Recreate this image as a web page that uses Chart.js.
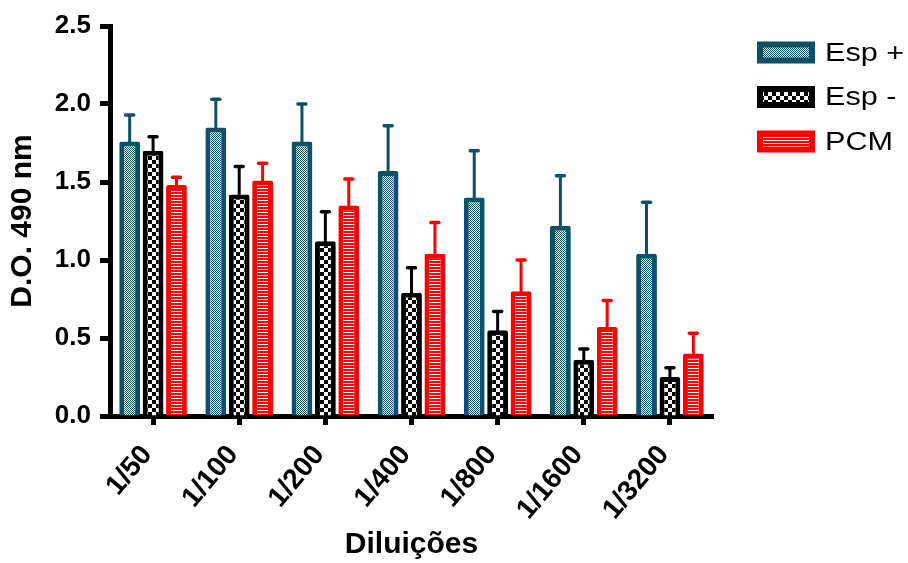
<!DOCTYPE html>
<html>
<head>
<meta charset="utf-8">
<script src="https://cdn.jsdelivr.net/npm/chart.js@4/dist/chart.umd.min.js"></script>
<style>
html,body{margin:0;padding:0;background:#fff;}
#wrap{width:908px;height:563px;position:relative;}
</style>
</head>
<body>
<div id="wrap"><canvas id="c" width="908" height="563"></canvas></div>
<script>
// ---- data ----
const categories = ["1/50", "1/100", "1/200", "1/400", "1/800", "1/1600", "1/3200"];
const seriesNames = ["Esp +", "Esp -", "PCM"];
const espPlus = [1.76, 1.85, 1.76, 1.57, 1.40, 1.22, 1.04];
const espPlusErr = [0.17, 0.18, 0.24, 0.29, 0.30, 0.32, 0.33];
const espMinus = [1.70, 1.42, 1.12, 0.79, 0.55, 0.36, 0.25];
const espMinusErr = [0.09, 0.18, 0.19, 0.16, 0.12, 0.07, 0.06];
const pcm = [1.48, 1.51, 1.35, 1.04, 0.80, 0.57, 0.40];
const pcmErr = [0.05, 0.11, 0.17, 0.20, 0.20, 0.17, 0.13];
const yTicks = [0, 0.5, 1.0, 1.5, 2.0, 2.5];

// ---- styles ----
const TEAL = "#0b5266";
const BLACK = "#000000";
const RED = "#ff0000";
const FONT = 'Arial, "Liberation Sans", Helvetica, sans-serif';

function makePattern(w, h, draw) {
  const c = document.createElement("canvas");
  c.width = w; c.height = h;
  const g = c.getContext("2d");
  draw(g);
  return g.createPattern(c, "repeat");
}
const tealPattern = makePattern(2, 2, g => {
  g.fillStyle = "#fff"; g.fillRect(0, 0, 2, 2);
  g.fillStyle = TEAL; g.fillRect(0, 0, 1, 1); g.fillRect(1, 1, 1, 1);
});
const blackPattern = makePattern(8, 8, g => {
  g.fillStyle = "#fff"; g.fillRect(0, 0, 8, 8);
  g.fillStyle = BLACK; g.fillRect(0, 0, 4, 4); g.fillRect(4, 4, 4, 4);
});
const redPattern = makePattern(4, 3, g => {
  g.fillStyle = RED; g.fillRect(0, 0, 4, 3);
  g.fillStyle = "#fff"; g.fillRect(0, 2, 4, 1);
});

const errorBars = {
  id: "errorBars",
  afterDatasetsDraw(chart) {
    const ctx = chart.ctx;
    const ys = chart.scales.y;
    chart.data.datasets.forEach((ds, di) => {
      const meta = chart.getDatasetMeta(di);
      meta.data.forEach((bar, i) => {
        const v = ds.data[i], e = ds.errors[i];
        const yTop = ys.getPixelForValue(v + e);
        ctx.save();
        ctx.strokeStyle = ds.borderColor;
        ctx.lineWidth = 3;
        ctx.lineCap = "butt";
        ctx.beginPath();
        ctx.moveTo(bar.x, bar.y + 3);
        ctx.lineTo(bar.x, yTop);
        ctx.stroke();
        ctx.lineWidth = 3.5;
        ctx.lineCap = "round";
        ctx.beginPath();
        ctx.moveTo(bar.x - 4, yTop);
        ctx.lineTo(bar.x + 4, yTop);
        ctx.stroke();
        ctx.restore();
      });
    });
  }
};

const customLegend = {
  id: "customLegend",
  afterDraw(chart) {
    const ctx = chart.ctx;
    const x0 = 757, bw = 58, bh = 22, rowStart = 52.5, rowGap = 44.5;
    chart.data.datasets.forEach((ds, i) => {
      const cy = rowStart + i * rowGap;
      const top = cy - bh / 2;
      ctx.save();
      ctx.fillStyle = ds.borderColor;
      ctx.fillRect(x0, top, bw, bh);
      ctx.fillStyle = ds.backgroundColor;
      ctx.fillRect(x0 + 6, top + 6, bw - 12, bh - 12);
      ctx.fillStyle = "#000";
      ctx.font = "25.5px " + FONT;
      ctx.textBaseline = "middle";
      ctx.textAlign = "left";
      ctx.translate(825, cy + 1);
      ctx.scale(1.2, 1);
      ctx.fillText(ds.label, 0, 0);
      ctx.restore();
    });
  }
};

const barCommon = {
  borderWidth: 5,
  borderRadius: 2,
  borderSkipped: "start",
  categoryPercentage: 0.815,
  barPercentage: 0.89
};

new Chart(document.getElementById("c"), {
  type: "bar",
  data: {
    labels: categories,
    datasets: [
      Object.assign({ label: seriesNames[0], data: espPlus, errors: espPlusErr, backgroundColor: tealPattern, borderColor: TEAL }, barCommon),
      Object.assign({ label: seriesNames[1], data: espMinus, errors: espMinusErr, backgroundColor: blackPattern, borderColor: BLACK }, barCommon),
      Object.assign({ label: seriesNames[2], data: pcm, errors: pcmErr, backgroundColor: redPattern, borderColor: RED }, barCommon)
    ]
  },
  options: {
    responsive: false,
    animation: false,
    devicePixelRatio: 1,
    layout: { padding: { top: 26, right: 195, bottom: 0, left: 0 } },
    plugins: {
      legend: { display: false },
      tooltip: { enabled: false }
    },
    scales: {
      x: {
        offset: true,
        grid: { display: true, drawOnChartArea: false, offset: false, drawTicks: true, tickLength: 9, tickWidth: 5, tickColor: "#000" },
        border: { display: true, width: 5, color: "#000" },
        ticks: {
          color: "#000",
          font: { family: FONT, size: 28, weight: "bold" },
          maxRotation: 50, minRotation: 50,
          padding: 14,
          labelOffset: -6,
          autoSkip: false
        },
        title: {
          display: true, text: "Diluições", color: "#000",
          font: { family: FONT, size: 30, weight: "bold" },
          padding: { top: 0, bottom: 0 }
        },
        afterFit(scale) { scale.height = 147; }
      },
      y: {
        min: 0, max: 2.5,
        afterBuildTicks(scale) { scale.ticks = yTicks.map(v => ({ value: v })); },
        grid: { display: true, drawOnChartArea: false, drawTicks: true, tickLength: 10, tickWidth: 5, tickColor: "#000" },
        border: { display: true, width: 5, color: "#000" },
        ticks: {
          color: "#000",
          font: { family: FONT, size: 26, weight: "bold" },
          padding: 9,
          callback: v => Number(v).toFixed(1)
        },
        title: {
          display: true, text: "D.O. 490 nm", color: "#000",
          font: { family: FONT, size: 30, weight: "bold" },
          padding: { top: 5, bottom: 0 }
        },
        afterFit(scale) { scale.width = 110; }
      }
    }
  },
  plugins: [errorBars, customLegend]
});
</script>
</body>
</html>
